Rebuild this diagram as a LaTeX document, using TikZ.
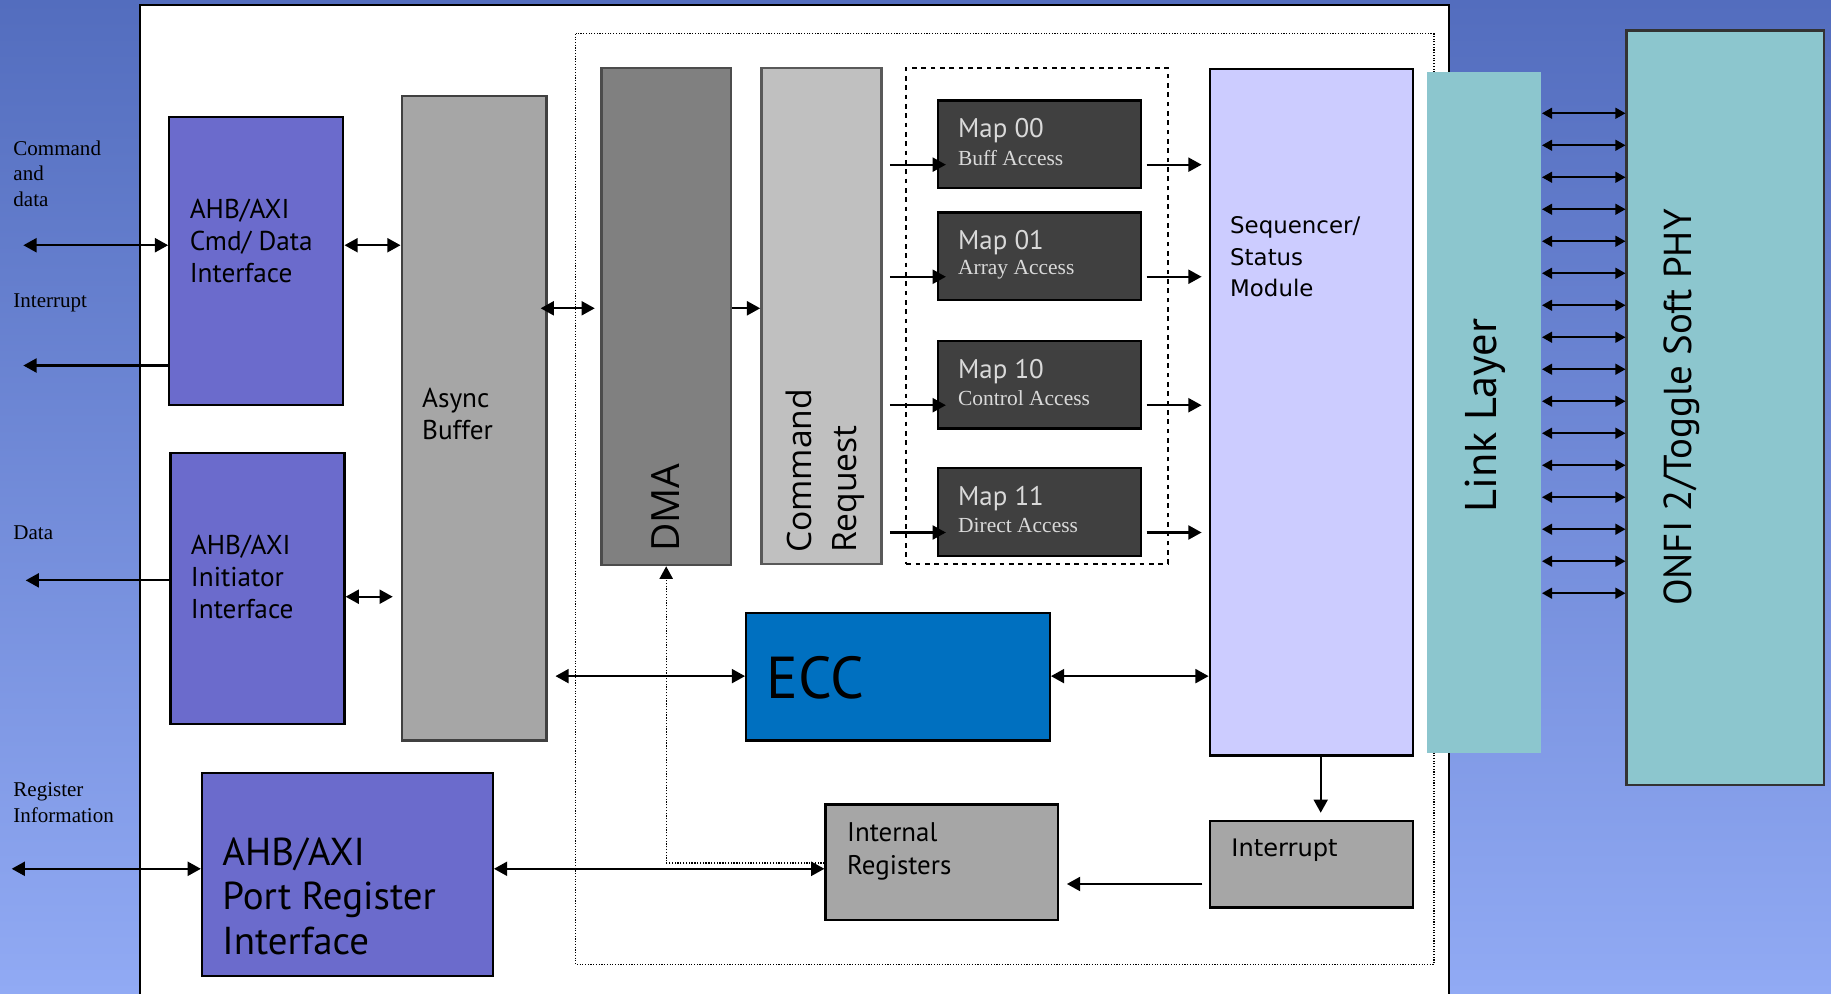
\documentclass[tikz,border=0pt]{standalone}
\usepackage{fontspec}
\setmainfont{Liberation Serif}
\newfontfamily\ptsans{PT Sans}
\newfontfamily\opensans{Open Sans}
\newfontfamily\dejavu{DejaVu Sans}
\usetikzlibrary{arrows.meta,fit}

\definecolor{bgtop}{RGB}{83,109,190}
\definecolor{bgbot}{RGB}{145,170,244}
\definecolor{ahbfill}{RGB}{107,107,204}
\definecolor{grayfill}{RGB}{166,166,166}
\definecolor{dmafill}{RGB}{128,128,128}
\definecolor{reqfill}{RGB}{192,192,192}
\definecolor{mapfill}{RGB}{64,64,64}
\definecolor{maptext}{RGB}{217,217,217}
\definecolor{seqfill}{RGB}{204,204,255}
\definecolor{linkfill}{RGB}{140,198,206}
\definecolor{eccfill}{RGB}{0,112,192}

\tikzset{every picture/.style={line width=0.75pt}}
\tikzset{
  blk/.style={draw=black, line width=1.5pt, inner sep=0pt},
  sidelbl/.style={font=\fontsize{13.5pt}{16.5pt}\selectfont, align=left, inner sep=0pt},
  boxlbl/.style={font=\ptsans\fontsize{17.5pt}{20.6pt}\selectfont, align=left, inner sep=0pt, anchor=north west},
  biarr/.style={{Triangle[length=8.5pt,width=9pt]}-{Triangle[length=8.5pt,width=9pt]}, line width=1.4pt},
  onearr/.style={-{Triangle[length=8.5pt,width=9pt]}, line width=1.4pt},
  phyarr/.style={{Triangle[length=6.5pt,width=7pt]}-{Triangle[length=6.5pt,width=7pt]}, line width=1.2pt}
}

\begin{document}
\begin{tikzpicture}[x=0.75pt,y=0.75pt,yscale=-1,xscale=1]
\useasboundingbox (0,0) rectangle (1568,851);

%Shape: Background
\shade[top color=bgtop, bottom color=bgbot] (0,0) rectangle (1568,851);
%Shape: Rectangle
\draw[fill=white, line width=1.5pt] (120,4) rectangle (1241,870);
%Shape: Rectangle
\draw[densely dotted, line width=0.75pt] (493,29) rectangle (1228,826);

%Shape: Rectangle
\node[blk, fill=ahbfill, fit={(145,100) (294,347)}] (cmd) {};
%Shape: Rectangle
\node[blk, fill=ahbfill, fit={(146,388) (295,620)}] (init) {};
%Shape: Rectangle
\node[blk, draw=black!75, fill=grayfill, fit={(344,82) (468,634)}] (async) {};
%Shape: Rectangle
\node[blk, draw=black!70, fill=dmafill, fit={(515,58) (626,484)}] (dma) {};
%Shape: Rectangle
\node[blk, draw=black!65, fill=reqfill, fit={(652,58) (755,483)}] (cmdreq) {};
%Shape: Rectangle
\node[draw, dashed, line width=1.2pt, inner sep=0pt, fit={(776,58) (1000,483)}] (mapgrp) {};
%Shape: Rectangle
\node[blk, fill=seqfill, fit={(1036,59) (1210,647)}] (seq) {};
%Shape: Rectangle
\node[inner sep=0pt, fill=linkfill, fit={(1222,62) (1320,645)}] (link) {};
%Shape: Rectangle
\node[blk, draw=black!80, fill=linkfill, fit={(1393,26) (1562,672)}] (onfi) {};
%Shape: Rectangle
\node[blk, fill=eccfill, fit={(639,525) (899,634)}] (ecc) {};
%Shape: Rectangle
\node[blk, fill=grayfill, fit={(1036,703) (1210,777)}] (irq) {};
%Shape: Rectangle
\node[blk, fill=grayfill, fit={(707,689) (906,788)}] (intreg) {};
%Shape: Rectangle
\node[blk, fill=ahbfill, fit={(173,662) (422,836)}] (port) {};

% Map boxes
\foreach \nm/\yt/\num/\acc in {mapA/86/00/Buff Access, mapB/182/01/Array Access, mapC/292/10/Control Access, mapD/401/11/Direct Access}{
  \node[blk, fill=mapfill, fit={(803,\yt) (977,\yt+75)}] (\nm) {};
  \node[anchor=west, inner sep=0pt, text=maptext, font=\ptsans\fontsize{17.3pt}{17pt}\selectfont] (\nm-num) at (820,\yt+26) {Map \num};
  \node[anchor=west, inner sep=0pt, text=maptext, font=\fontsize{13.8pt}{14pt}\selectfont] (\nm-acc) at (820,\yt+49) {\acc};
}

% Text Node
\node[sidelbl, anchor=north west] (cmdlbl) at (11,120) {Command\\and\\data};
% Text Node
\node[sidelbl, anchor=west] (irqlbl) at (11,259) {Interrupt};
% Text Node
\node[sidelbl, anchor=west] (datalbl) at (11,456) {Data};
% Text Node
\node[sidelbl, anchor=north west] (reglbl) at (11,670) {Register\\Information};
% Text Node
\node[boxlbl] (cmdtxt) at (162,170) {AHB/AXI\\Cmd/ Data\\Interface};
% Text Node
\node[boxlbl] (inittxt) at (163,458) {AHB/AXI\\Initiator\\Interface};
% Text Node
\node[boxlbl] (asynctxt) at (361,332) {Async\\Buffer};
% Text Node
\node[boxlbl, font=\ptsans\fontsize{25pt}{28.5pt}\selectfont] (porttxt) at (190,717) {AHB/AXI\\Port Register\\Interface};
% Text Node
\node[boxlbl, font=\ptsans\fontsize{17.3pt}{21pt}\selectfont] (intregtxt) at (725,704) {Internal\\Registers};
% Text Node
\node[boxlbl, font=\dejavu\fontsize{14.7pt}{20.3pt}\selectfont] (seqtxt) at (1053,185) {Sequencer/\\Status\\Module};
% Text Node
\node[boxlbl, font=\dejavu\fontsize{15.5pt}{18pt}\selectfont] (irqtxt) at (1054,718) {Interrupt};
% Text Node
\node[anchor=west, inner sep=0pt, font=\ptsans\fontsize{38pt}{38pt}\selectfont] (ecctxt) at (656,580) {ECC};
% Text Node
\node[rotate=90, anchor=west, inner sep=0pt, font=\opensans\fontsize{25pt}{25pt}\selectfont] (dmatxt) at (570,473) {DMA};
% Text Node
\node[rotate=90, anchor=west, inner sep=0pt, align=left, font=\opensans\fontsize{21.6pt}{29pt}\selectfont] (reqtxt) at (707,474) {Command\\Request};
% Text Node
\node[rotate=90, inner sep=0pt, font=\ptsans\fontsize{28.5pt}{28.5pt}\selectfont] (linktxt) at (1272,356) {Link Layer};
% Text Node
\node[rotate=90, inner sep=0pt, font=\ptsans\fontsize{25pt}{25pt}\selectfont] (onfitxt) at (1440,349) {ONFI 2/Toggle Soft PHY};

% Free ends on the left
\coordinate (cmdio) at (20,210);
\coordinate (irqo) at (20,313);
\coordinate (datao) at (22,497);
\coordinate (regio) at (10,744);

% Connectors
\draw[biarr] (cmdio) -- (cmd.west |- cmdio);
\draw[onearr] (cmd.west |- irqo) -- (irqo);
\draw[onearr] (init.west |- datao) -- (datao);
\draw[biarr] (regio) -- (port.west |- regio);
\draw[biarr] (cmd.east |- cmdio) -- (async.west |- cmdio);
\draw[biarr, shorten >=5pt] (init.east |- 0,511) -- (async.west |- 0,511);
\draw[biarr, shorten <=-4.5pt, shorten >=3.5pt] (async.east |- 0,264) -- (dma.west |- 0,264);
\draw[onearr] (dma.east |- 0,264) -- (cmdreq.west |- 0,264);
\foreach \nm/\yy in {mapA/141, mapB/237, mapC/347, mapD/456}{
  \draw[onearr, shorten <=4.5pt, shorten >=-6pt] (cmdreq.east |- 0,\yy) -- (\nm.west |- 0,\yy);
  \draw[onearr, shorten <=3pt, shorten >=4.5pt] (\nm.east |- 0,\yy) -- (seq.west |- 0,\yy);
}
\draw[biarr, shorten <=5pt] (async.east |- 0,579) -- (ecc.west |- 0,579);
\draw[biarr] (ecc.east |- 0,579) -- (seq.west |- 0,579);
\draw[onearr, shorten >=4.5pt] (seq.south -| 1131,0) -- (irq.north -| 1131,0);
\draw[onearr, shorten <=4pt, shorten >=5pt] (irq.west |- 0,757) -- (intreg.east |- 0,757);
\draw[biarr] (port.east |- 0,744) -- (intreg.west |- 0,744);
\draw[densely dotted, line width=0.8pt, -{Triangle[length=8pt,width=8.5pt]}] (intreg.west |- 0,739) -| (dma.south);
\foreach \i in {0,...,15}{
  \draw[phyarr] (link.east |- 0,97+27.4*\i) -- (onfi.west |- 0,97+27.4*\i);
}

\end{tikzpicture}
\end{document}
